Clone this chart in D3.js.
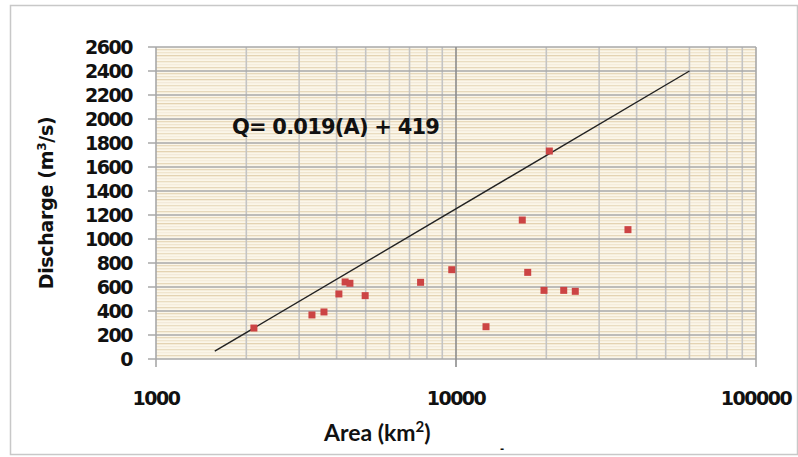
<!DOCTYPE html>
<html>
<head>
<meta charset="utf-8">
<script src="https://cdn.jsdelivr.net/npm/d3@7"></script>
<style>
  body { margin: 0; background: #fff; }
  text { font-family: "DejaVu Sans", Verdana, sans-serif; font-weight: bold; fill: #111; }
</style>
</head>
<body>
<div id="chart"></div>
<script>
// data (area in km2, discharge in m3/s)
const area      = [2120, 3310, 3630, 4070, 4270, 4430, 4980, 7620, 9680, 12590, 16630, 17340, 19650, 22860, 24980, 37430, 20470];
const discharge = [ 258,  367,  392,  542,  642,  631,  528,  639,  744,   269,  1158,   722,   572,   572,   564,  1078,  1733];

// the drawn regression line (straight on the log axis)
const lineArea = [1570, 60000];
const lineQ    = [65, 2400];

const yTicks = d3.range(0, 2601, 200);
const xTicks = [1000, 10000, 100000];
const equation = 'Q= 0.019(A) + 419';

const width = 798, height = 457;
const margin = {left: 156, right: 42, top: 47, bottom: 98};

const x = d3.scaleLog()
  .domain([1000, 100000])
  .range([margin.left, width - margin.right]);

const y = d3.scaleLinear()
  .domain([0, 2600])
  .range([height - margin.bottom, margin.top]);

const svg = d3.select('#chart').append('svg')
  .attr('width', width)
  .attr('height', height);

// outer chart frame
svg.append('rect')
  .attr('x', 10.5).attr('y', 5.5)
  .attr('width', width - 11).attr('height', 449)
  .attr('fill', '#fff')
  .attr('stroke', '#c8c8c8')
  .attr('stroke-width', 1.5);

// striped beige plot background
const defs = svg.append('defs');
const pat = defs.append('pattern')
  .attr('id', 'stripes')
  .attr('patternUnits', 'userSpaceOnUse')
  .attr('x', 0).attr('y', margin.top)
  .attr('width', 10).attr('height', 24);
pat.append('rect').attr('width', 10).attr('height', 24).attr('fill', '#fbf6e9');
const stripes = [[2, '#e8d9bb'], [5, '#f0e5ce'], [8, '#e4d3b2'], [11, '#f3eadA'], [14, '#eaddc1'], [17, '#f5eddc'], [20, '#e7d8ba']];
stripes.forEach(s => {
  pat.append('rect').attr('x', 0).attr('y', s[0]).attr('width', 10).attr('height', 1.3).attr('fill', s[1]);
});

svg.append('rect')
  .attr('x', x.range()[0]).attr('y', y.range()[1])
  .attr('width', x.range()[1] - x.range()[0])
  .attr('height', y.range()[0] - y.range()[1])
  .attr('fill', 'url(#stripes)');

// minor verticals
const minor = [];
[1000, 10000].forEach(dec => { for (let k = 2; k <= 9; k++) minor.push(dec * k); });

svg.append('g').selectAll('line')
  .data(minor)
  .join('line')
  .attr('x1', d => x(d)).attr('x2', d => x(d))
  .attr('y1', y(2600)).attr('y2', y(0))
  .attr('stroke', '#c4c4c4')
  .attr('stroke-width', 1.6);

// horizontal gridlines
svg.append('g').selectAll('line')
  .data(yTicks)
  .join('line')
  .attr('x1', x(1000) - 8).attr('x2', x(100000))
  .attr('y1', d => y(d)).attr('y2', d => y(d))
  .attr('stroke', '#a8a8a8')
  .attr('stroke-width', 1.6);

// major verticals
svg.append('g').selectAll('line')
  .data(xTicks)
  .join('line')
  .attr('x1', d => x(d)).attr('x2', d => x(d))
  .attr('y1', y(2600)).attr('y2', y(0) + 8)
  .attr('stroke', d => d === 10000 ? '#8c8c8c' : '#a8a8a8')
  .attr('stroke-width', 1.6);

// y tick labels
svg.append('g').selectAll('text')
  .data(yTicks)
  .join('text')
  .attr('x', 132)
  .attr('y', d => y(d))
  .attr('dy', '0.36em')
  .attr('text-anchor', 'end')
  .attr('font-size', 19)
  .attr('letter-spacing', -1.5)
  .text(d => d);

// x tick labels
svg.append('g').selectAll('text')
  .data(xTicks)
  .join('text')
  .attr('x', d => x(d))
  .attr('y', 405)
  .attr('text-anchor', 'middle')
  .attr('font-size', 19)
  .attr('letter-spacing', -1.5)
  .text(d => d);

// trend line
svg.append('line')
  .attr('x1', x(lineArea[0])).attr('y1', y(lineQ[0]))
  .attr('x2', x(lineArea[1])).attr('y2', y(lineQ[1]))
  .attr('stroke', '#222')
  .attr('stroke-width', 1.4);

// points
svg.append('g').selectAll('rect')
  .data(area.map((a, i) => ({a, q: discharge[i]})))
  .join('rect')
  .attr('x', d => x(d.a) - 3.5)
  .attr('y', d => y(d.q) - 3.5)
  .attr('width', 7).attr('height', 7)
  .attr('fill', '#cc4444');

// equation
svg.append('text')
  .attr('x', 232).attr('y', 134)
  .attr('font-size', 21)
  .attr('letter-spacing', -0.8)
  .text(equation);

// axis titles
svg.append('text')
  .attr('transform', 'translate(53,203) rotate(-90)')
  .attr('text-anchor', 'middle')
  .attr('font-size', 19)
  .attr('letter-spacing', -0.3)
  .html('Discharge (m<tspan dy="-7" font-size="12">3</tspan><tspan dy="7">/s)</tspan>');

svg.append('text')
  .attr('x', 324).attr('y', 441)
  .style('font-family', 'Lato, "Open Sans", sans-serif')
  .attr('font-size', 23)
  .html('Area (km<tspan dy="-9" font-size="15">2</tspan><tspan dy="9">)</tspan>');

svg.append('text')
  .attr('x', 500).attr('y', 452)
  .attr('font-size', 10)
  .text('-');
</script>
</body>
</html>
